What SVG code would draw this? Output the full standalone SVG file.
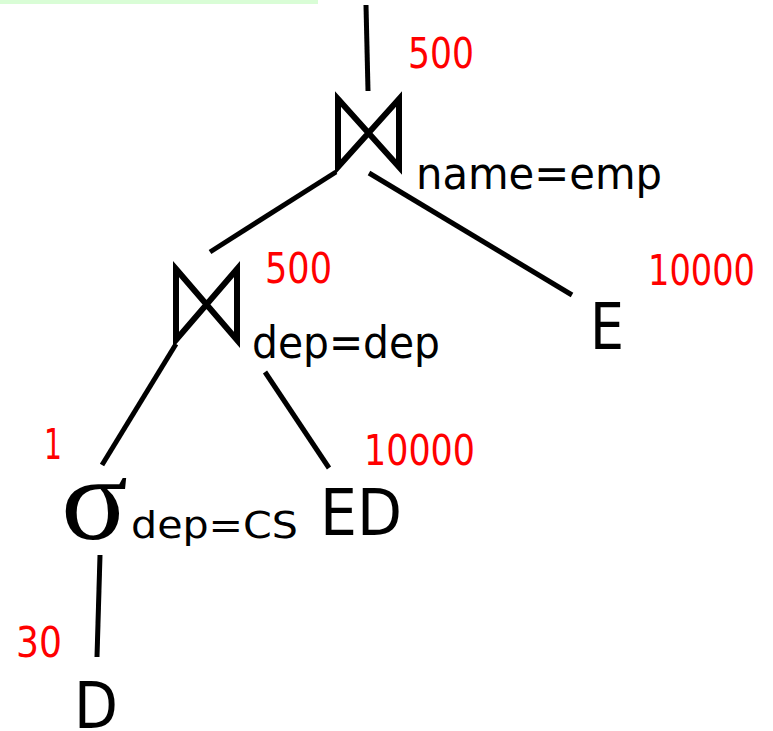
<svg xmlns="http://www.w3.org/2000/svg" width="773" height="731" viewBox="0 0 773 731">
<style>
.e{stroke:#000;stroke-width:5;fill:none;stroke-linecap:butt}
.bt{stroke:#000;stroke-width:6;fill:none;stroke-linejoin:miter}
.n{font-family:"DejaVu Sans","Liberation Sans",sans-serif;fill:#f00;font-size:42px}
.l{font-family:"DejaVu Sans","Liberation Sans",sans-serif;fill:#000;font-size:44px}
.L{font-family:"DejaVu Sans","Liberation Sans",sans-serif;fill:#000;font-size:64px}
</style>
<rect x="0" y="0" width="318" height="4" fill="#d9fdd6"/>
<g id="connectors">
<line class="e" x1="366" y1="5" x2="368" y2="91"/>
<line class="e" x1="336" y1="172" x2="210" y2="252"/>
<line class="e" x1="369" y1="173" x2="572" y2="295"/>
<line class="e" x1="176" y1="344" x2="102" y2="465"/>
<line class="e" x1="265" y1="372" x2="329" y2="468"/>
<line class="e" x1="100" y1="555" x2="97" y2="657"/>
</g>
<g id="join1">
<polygon class="bt" points="338,99 399,167 399,99 338,167"/>
<text class="n" x="408" y="68" textLength="66" lengthAdjust="spacingAndGlyphs">500</text>
<text class="l" x="416" y="189" textLength="246" lengthAdjust="spacingAndGlyphs">name=emp</text>
</g>
<g id="join2">
<polygon class="bt" points="176,269 237,340 237,269 176,340"/>
<text class="n" x="265" y="283" textLength="67" lengthAdjust="spacingAndGlyphs">500</text>
<text class="l" x="252" y="358" textLength="188" lengthAdjust="spacingAndGlyphs">dep=dep</text>
</g>
<g id="E">
<text class="L" x="590" y="349" textLength="34" lengthAdjust="spacingAndGlyphs">E</text>
<text class="n" x="648" y="285" textLength="107" lengthAdjust="spacingAndGlyphs">10000</text>
</g>
<g id="select">
<text x="61" y="539" font-family="Liberation Serif,serif" font-size="118" fill="#000" textLength="67" lengthAdjust="spacingAndGlyphs">σ</text>
<text x="131" y="538" font-family="DejaVu Sans,Liberation Sans,sans-serif" font-size="38" fill="#000" textLength="167" lengthAdjust="spacingAndGlyphs">dep=CS</text>
<text class="n" x="44" y="459" textLength="18" lengthAdjust="spacingAndGlyphs">1</text>
</g>
<g id="ED">
<text class="L" x="320" y="535" textLength="82" lengthAdjust="spacingAndGlyphs">ED</text>
<text class="n" x="364" y="465" textLength="111" lengthAdjust="spacingAndGlyphs">10000</text>
</g>
<g id="D">
<text class="L" x="74" y="728" textLength="44" lengthAdjust="spacingAndGlyphs">D</text>
<text class="n" x="16" y="657" textLength="46" lengthAdjust="spacingAndGlyphs">30</text>
</g>
</svg>
